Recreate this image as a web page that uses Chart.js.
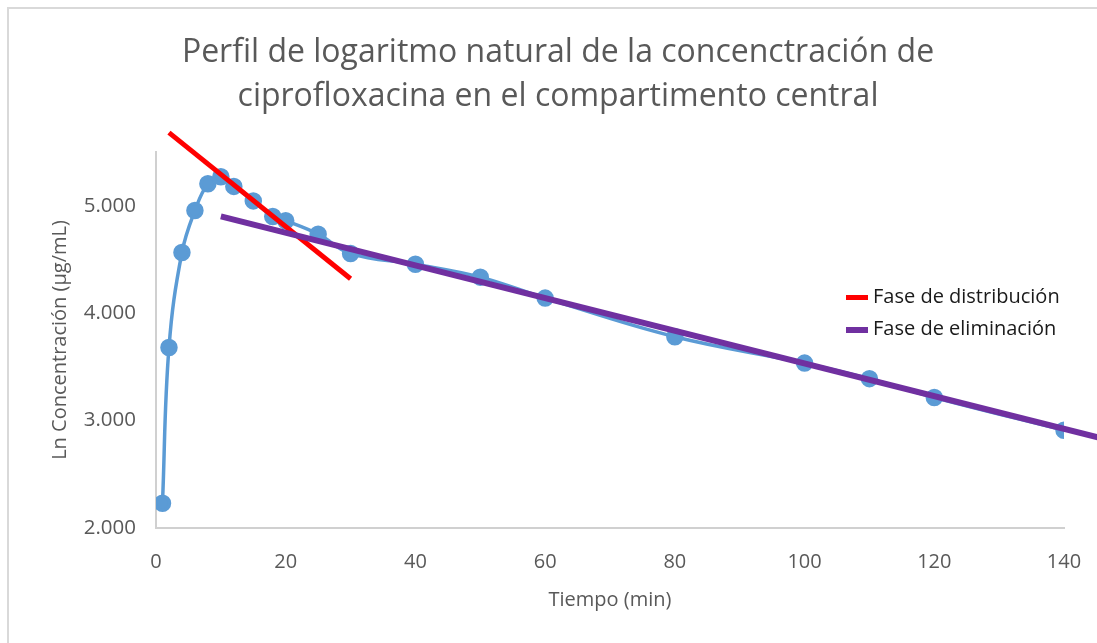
<!DOCTYPE html>
<html>
<head>
<meta charset="utf-8">
<script src="https://cdn.jsdelivr.net/npm/chart.js@4.4.1/dist/chart.umd.min.js"></script>
<style>
    body { margin: 0; background: #fff; }
    #w { position: relative; width: 1097px; height: 643px; overflow: hidden; }
    #marco { position: absolute; left: 7px; top: 7px; width: 1200px; height: 800px;
             border-left: 2px solid #d9d9d9; border-top: 2px solid #d9d9d9; }
    #leyenda { position: absolute; left: 846px; top: 280px; font-family: "Open Sans", sans-serif;
               font-size: 20px; color: #1a1a1a; line-height: 32px; }
    #leyenda span.m { display: inline-block; width: 22px; vertical-align: middle; margin-right: 5px; }
</style>
</head>
<body>
<div id="w">
    <div id="marco"></div>
    <canvas id="myChart" width="1097" height="643"></canvas>
    <div id="leyenda"></div>
</div>
<script>
// datos
var tiempo = [1, 2, 4, 6, 8, 10, 12, 15, 18, 20, 25, 30, 40, 50, 60, 80, 100, 110, 120, 140]
var lnConc = [2.23, 3.68, 4.565, 4.955, 5.205, 5.27, 5.18, 5.045, 4.9, 4.86, 4.735, 4.555, 4.455, 4.335, 4.14, 3.78, 3.535, 3.39, 3.215, 2.91]

// lineas de tendencia (extremos)
var distribucionX = [2, 30]
var distribucionY = [5.68, 4.32]
var eliminacionX = [10, 145.3]
var eliminacionY = [4.9, 2.843]

var xTicks = [0, 20, 40, 60, 80, 100, 120, 140]
var yTicks = [2, 3, 4, 5]

var titulo = ['Perfil de logaritmo natural de la concenctración de', 'ciprofloxacina en el compartimento central']

function puntos(xs, ys) {
    var arr = []
    xs.forEach((x, i) => {
        arr.push({ x: x, y: ys[i] })
    });
    return arr
}

var gris = '#595959'
var fuente = '"Open Sans", sans-serif'

var ctx = document.getElementById('myChart').getContext('2d');
var myChart = new Chart(ctx, {
    type: 'line',
    data: {
        datasets: [{
            label: 'Ln Concentración',
            data: puntos(tiempo, lnConc),
            borderColor: '#5b9bd5',
            backgroundColor: '#5b9bd5',
            borderWidth: 3.5,
            pointRadius: 7,
            pointHoverRadius: 7,
            tension: 0.4,
            order: 3,
            enLeyenda: false
        }, {
            label: 'Fase de distribución',
            data: puntos(distribucionX, distribucionY),
            borderColor: '#ff0000',
            backgroundColor: '#ff0000',
            borderWidth: 5,
            pointRadius: 0,
            clip: false,
            order: 2,
            enLeyenda: true
        }, {
            label: 'Fase de eliminación',
            data: puntos(eliminacionX, eliminacionY),
            borderColor: '#7030a0',
            backgroundColor: '#7030a0',
            borderWidth: 6,
            pointRadius: 0,
            clip: false,
            order: 1,
            enLeyenda: true
        }]
    },
    options: {
        responsive: false,
        animation: false,
        layout: { padding: { left: 52, right: 33, top: 0, bottom: 0 } },
        plugins: {
            legend: { display: false },
            tooltip: { enabled: false },
            title: {
                display: true,
                text: titulo,
                color: gris,
                font: { family: fuente, size: 32, weight: 'normal', lineHeight: 1.375 },
                padding: { top: 30.5, bottom: 33.5 }
            }
        },
        scales: {
            x: {
                type: 'linear',
                min: 0,
                max: 140,
                afterBuildTicks: function (scale) {
                    scale.ticks = xTicks.map(v => ({ value: v }))
                },
                afterFit: function (scale) { scale.height = 115 },
                grid: { display: false },
                border: { display: true, color: '#d0d0d0', width: 2 },
                ticks: { color: gris, font: { family: fuente, size: 20 }, padding: 14, maxRotation: 0 },
                title: {
                    display: true, text: 'Tiempo (min)', color: gris,
                    font: { family: fuente, size: 20, lineHeight: 1.2 },
                    padding: { top: 0, bottom: 31 }
                }
            },
            y: {
                type: 'linear',
                min: 2,
                max: 5.5,
                afterBuildTicks: function (scale) {
                    scale.ticks = yTicks.map(v => ({ value: v }))
                },
                afterFit: function (scale) { scale.width = 104 },
                grid: { display: false },
                border: { display: true, color: '#d0d0d0', width: 2 },
                ticks: {
                    color: gris, font: { family: fuente, size: 20.5 }, padding: 12,
                    callback: function (v) { return Number(v).toFixed(3) }
                },
                title: {
                    display: true, text: 'Ln Concentración (µg/mL)', color: gris,
                    font: { family: fuente, size: 20, lineHeight: 0.8 },
                    padding: { top: 0, bottom: 0 }
                }
            }
        }
    }
});

// leyenda en html
var str = ''
myChart.data.datasets.forEach(ds => {
    if (ds.enLeyenda) {
        str += '<div><span class="m" style="height:' + ds.borderWidth + 'px;background:' + ds.borderColor + '"></span>' + ds.label + '</div>'
    }
});
document.getElementById('leyenda').innerHTML = str
</script>
</body>
</html>
